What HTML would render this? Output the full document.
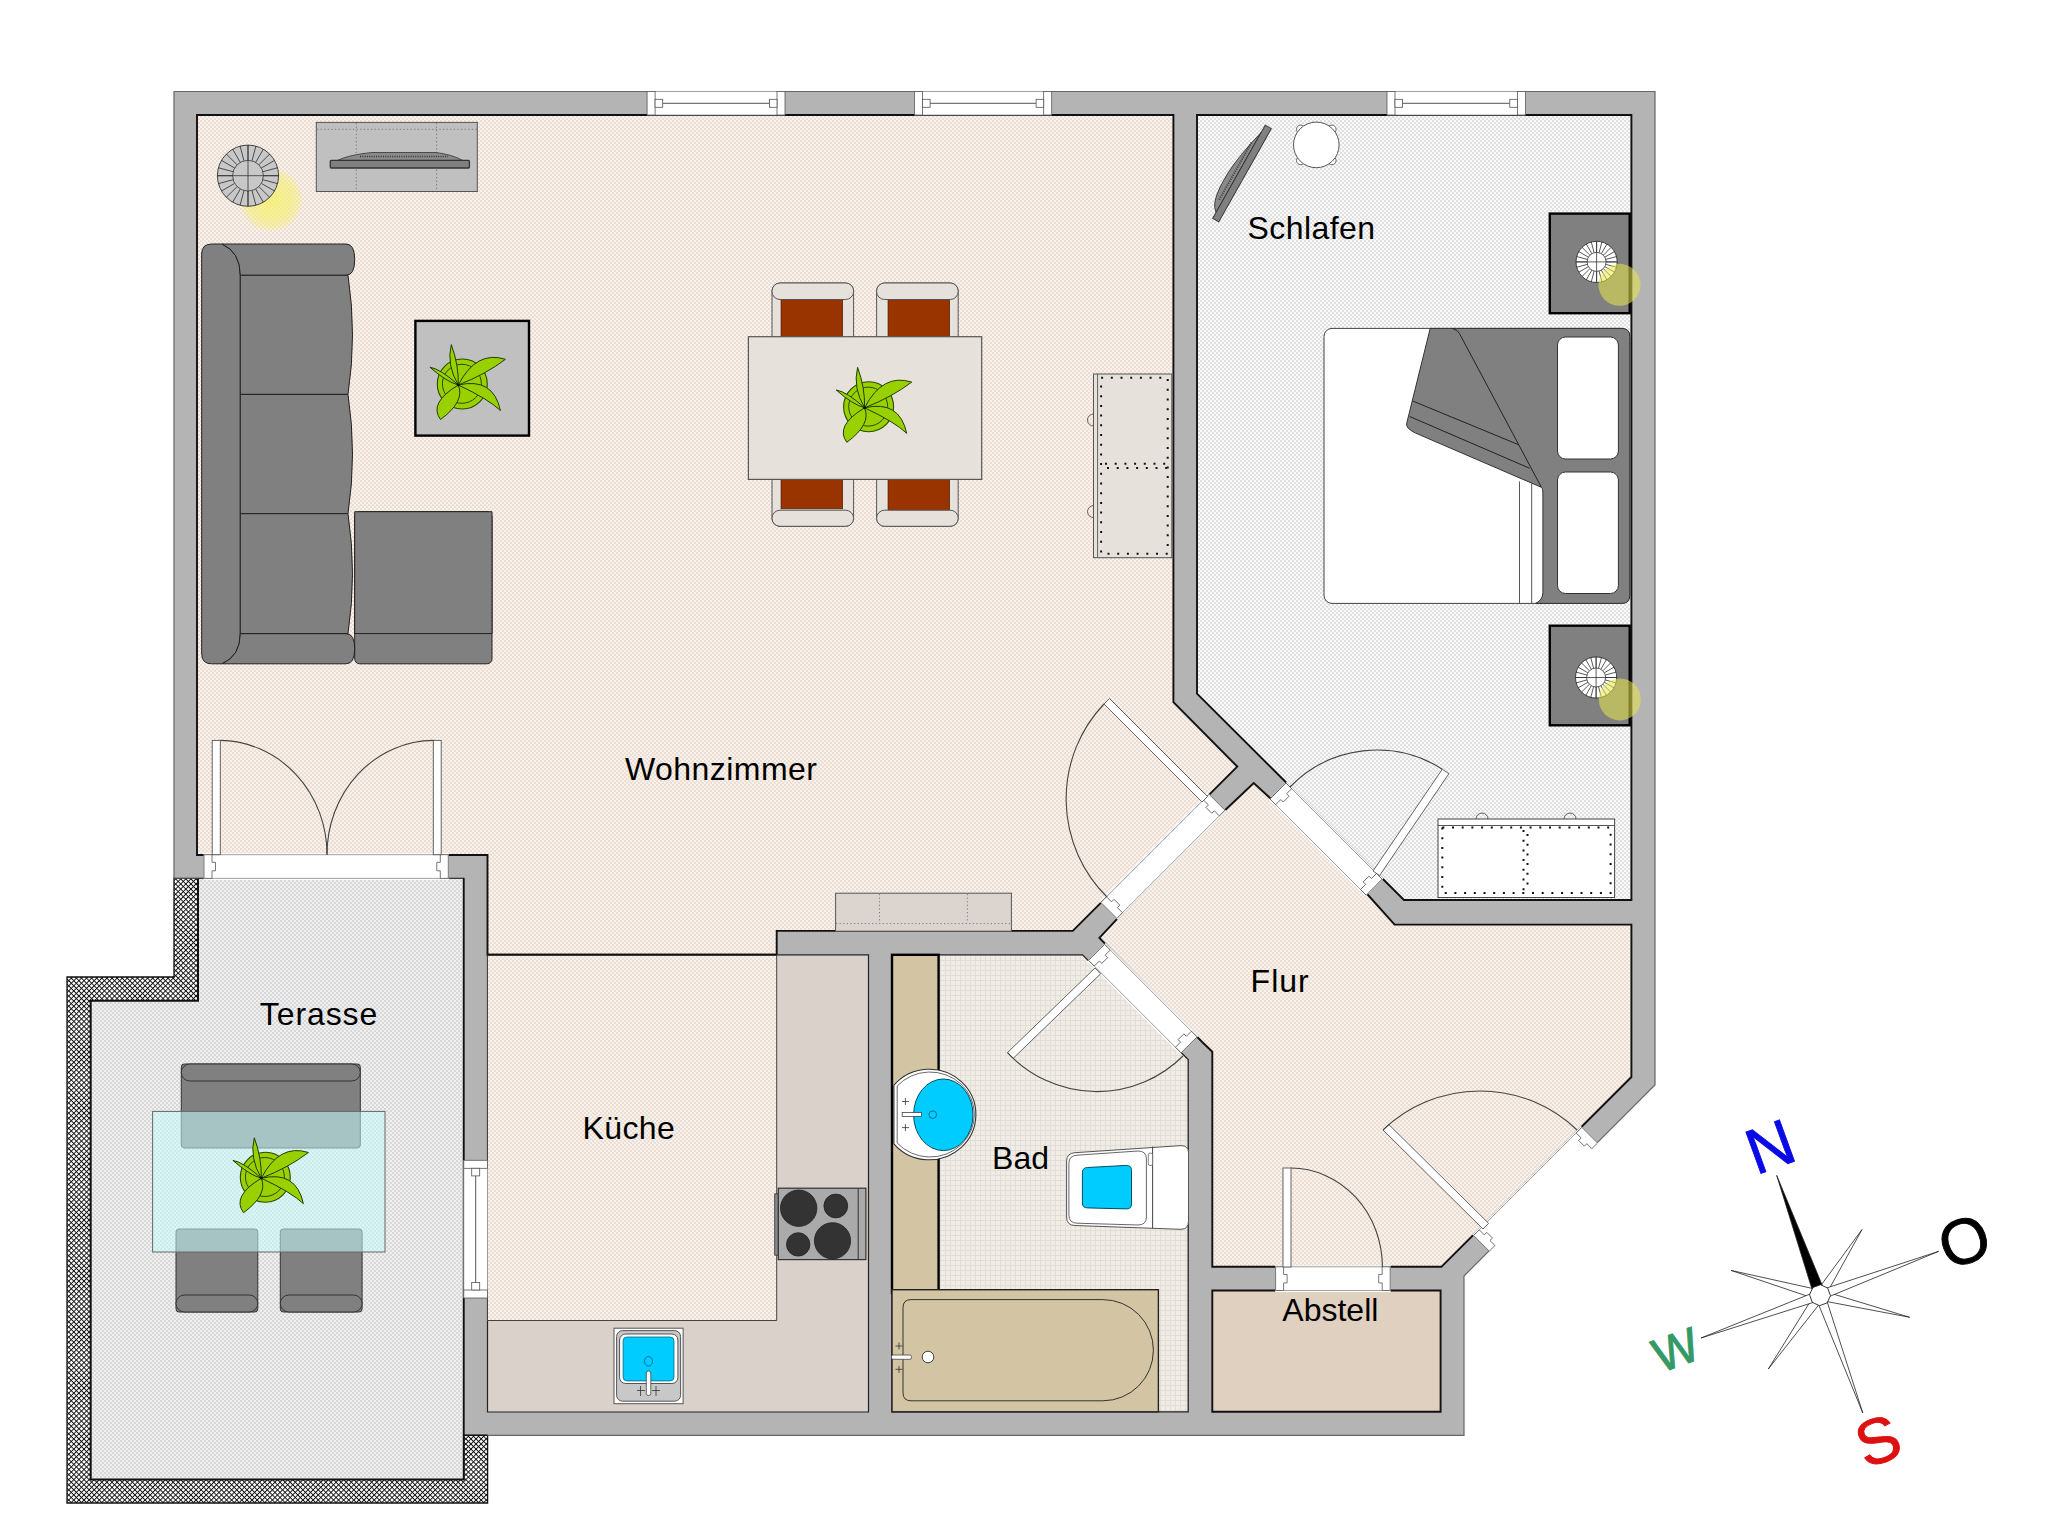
<!DOCTYPE html>
<html><head><meta charset="utf-8"><style>html,body{margin:0;padding:0;background:#fff;}svg{display:block;}</style></head>
<body><svg width="2048" height="1538" viewBox="0 0 2048 1538">
<rect width="2048" height="1538" fill="#fff"/>
<defs>
<pattern id="pwz" width="4" height="4" patternUnits="userSpaceOnUse"><rect width="4" height="4" fill="#fbf1e8"/><rect width="2" height="2" fill="#e9dfd6"/><rect x="2" y="2" width="2" height="2" fill="#e9dfd6"/></pattern>
<pattern id="psl" width="4" height="4" patternUnits="userSpaceOnUse"><rect width="4" height="4" fill="#fafafa"/><rect width="2" height="2" fill="#e0e0e0"/><rect x="2" y="2" width="2" height="2" fill="#e0e0e0"/></pattern>
<pattern id="pter" width="4" height="4" patternUnits="userSpaceOnUse"><rect width="4" height="4" fill="#f0f0f0"/><rect width="2" height="2" fill="#d8d8d8"/><rect x="2" y="2" width="2" height="2" fill="#d8d8d8"/></pattern>
<pattern id="pbad" width="5" height="5" patternUnits="userSpaceOnUse"><rect width="5" height="5" fill="#f0ede6"/><rect width="1" height="5" fill="#e2ddd5"/><rect width="5" height="1" fill="#e2ddd5"/></pattern>
<pattern id="pbal" width="3.6" height="3.6" patternUnits="userSpaceOnUse" patternTransform="rotate(45)"><rect width="3.6" height="3.6" fill="#ffffff"/><rect width="0.95" height="3.6" fill="#111"/><rect width="3.6" height="0.95" fill="#111"/></pattern>
</defs>
<polygon points="174.0,878.0 198.0,878.0 198.0,878.0 463.8,878.0 463.8,1432.0 487.6,1432.0 487.6,1503.0 67.0,1503.0 67.0,977.0 174.0,977.0" fill="url(#pbal)" stroke="#111" stroke-width="1.3"/>
<polygon points="198.0,878.0 463.8,878.0 463.8,1479.6 90.7,1479.6 90.7,1000.8 198.0,1000.8" fill="url(#pter)" stroke="#111" stroke-width="2"/>
<polygon points="174.0,91.5 1655.0,91.5 1655.0,1085.0 1464.0,1276.0 1464.0,1435.3 463.8,1435.3 463.8,878.0 174.0,878.0" fill="#b4b4b4" stroke="#666" stroke-width="1.2"/>
<path d="M463.8,878 L463.8,1435.3 L487.6,1435.3" fill="none" stroke="#111" stroke-width="1.6"/>
<polygon points="197.0,115.0 1173.4,115.0 1173.4,702.2 1237.3,766.6 1072.8,930.9 776.7,930.9 776.7,954.8 487.5,954.8 487.5,855.0 197.0,855.0" fill="url(#pwz)" stroke="#111" stroke-width="1.9"/>
<polygon points="487.5,954.8 868.5,954.8 868.5,1412.0 487.5,1412.0" fill="#d9d1ca" stroke="#222" stroke-width="1.2"/>
<polygon points="487.5,954.8 776.7,954.8 776.7,1320.5 487.5,1320.5" fill="url(#pwz)" stroke="#444" stroke-width="1"/>
<line x1="487.5" y1="954.8" x2="776.7" y2="954.8" stroke="#111" stroke-width="1.9"/>
<polygon points="892.0,954.8 1082.5,954.8 1188.2,1059.5 1188.2,1411.8 892.0,1411.8" fill="url(#pbad)" stroke="#222" stroke-width="1.3"/>
<polygon points="1099.4,937.9 1117.6,918.4 1225.0,810.2 1253.7,783.0 1270.0,798.0 1368.0,895.0 1394.6,924.6 1631.4,924.6 1631.4,1077.0 1441.4,1266.8 1212.3,1266.8 1212.3,1051.7 1202.2,1042.0 1099.4,937.9" fill="url(#pwz)" stroke="#111" stroke-width="1.9"/>
<polygon points="1197.0,115.0 1631.4,115.0 1631.4,900.0 1404.0,900.0 1197.0,693.6" fill="url(#psl)" stroke="#111" stroke-width="1.9"/>
<polygon points="1212.3,1290.5 1440.6,1290.5 1440.6,1411.8 1212.3,1411.8" fill="#e0d0c0" stroke="#111" stroke-width="1.9"/>
<g transform="translate(647.10,91.50) rotate(0)">
<rect x="0" y="0" width="137.9" height="23.5" fill="#fff"/>
<line x1="0" y1="0" x2="137.9" y2="0" stroke="#999" stroke-width="0.8"/>
<line x1="0" y1="23.5" x2="137.9" y2="23.5" stroke="#999" stroke-width="0.8"/>
<rect x="0" y="0" width="8" height="23.5" fill="#fff" stroke="#555" stroke-width="0.8"/>
<rect x="129.9" y="0" width="8" height="23.5" fill="#fff" stroke="#555" stroke-width="0.8"/>
<rect x="8" y="7.8" width="7.6" height="8" fill="#fff" stroke="#555" stroke-width="0.8"/>
<rect x="122.3" y="7.8" width="7.6" height="8" fill="#fff" stroke="#555" stroke-width="0.8"/>
<line x1="15.6" y1="11.8" x2="122.3" y2="11.8" stroke="#555" stroke-width="1"/>
</g>
<g transform="translate(914.50,91.50) rotate(0)">
<rect x="0" y="0" width="137.2" height="23.5" fill="#fff"/>
<line x1="0" y1="0" x2="137.2" y2="0" stroke="#999" stroke-width="0.8"/>
<line x1="0" y1="23.5" x2="137.2" y2="23.5" stroke="#999" stroke-width="0.8"/>
<rect x="0" y="0" width="8" height="23.5" fill="#fff" stroke="#555" stroke-width="0.8"/>
<rect x="129.2" y="0" width="8" height="23.5" fill="#fff" stroke="#555" stroke-width="0.8"/>
<rect x="8" y="7.8" width="7.6" height="8" fill="#fff" stroke="#555" stroke-width="0.8"/>
<rect x="121.6" y="7.8" width="7.6" height="8" fill="#fff" stroke="#555" stroke-width="0.8"/>
<line x1="15.6" y1="11.8" x2="121.6" y2="11.8" stroke="#555" stroke-width="1"/>
</g>
<g transform="translate(1387.00,91.50) rotate(0)">
<rect x="0" y="0" width="138.4" height="23.5" fill="#fff"/>
<line x1="0" y1="0" x2="138.4" y2="0" stroke="#999" stroke-width="0.8"/>
<line x1="0" y1="23.5" x2="138.4" y2="23.5" stroke="#999" stroke-width="0.8"/>
<rect x="0" y="0" width="8" height="23.5" fill="#fff" stroke="#555" stroke-width="0.8"/>
<rect x="130.4" y="0" width="8" height="23.5" fill="#fff" stroke="#555" stroke-width="0.8"/>
<rect x="8" y="7.8" width="7.6" height="8" fill="#fff" stroke="#555" stroke-width="0.8"/>
<rect x="122.8" y="7.8" width="7.6" height="8" fill="#fff" stroke="#555" stroke-width="0.8"/>
<line x1="15.6" y1="11.8" x2="122.8" y2="11.8" stroke="#555" stroke-width="1"/>
</g>
<g transform="translate(487.50,1160.30) rotate(90)">
<rect x="0" y="0" width="137.7" height="23.7" fill="#fff"/>
<line x1="0" y1="0" x2="137.7" y2="0" stroke="#999" stroke-width="0.8"/>
<line x1="0" y1="23.7" x2="137.7" y2="23.7" stroke="#999" stroke-width="0.8"/>
<rect x="0" y="0" width="8" height="23.7" fill="#fff" stroke="#555" stroke-width="0.8"/>
<rect x="129.7" y="0" width="8" height="23.7" fill="#fff" stroke="#555" stroke-width="0.8"/>
<rect x="8" y="7.8" width="7.6" height="8" fill="#fff" stroke="#555" stroke-width="0.8"/>
<rect x="122.1" y="7.8" width="7.6" height="8" fill="#fff" stroke="#555" stroke-width="0.8"/>
<line x1="15.6" y1="11.8" x2="122.1" y2="11.8" stroke="#555" stroke-width="1"/>
</g>
<g transform="translate(204.00,854.70) rotate(0)">
<rect x="-0.3" y="-1.6" width="244.9" height="26.9" fill="#fff"/>
<line x1="0" y1="0" x2="244.3" y2="0" stroke="#888" stroke-width="0.8"/>
<line x1="0" y1="23.7" x2="244.3" y2="23.7" stroke="#888" stroke-width="0.8"/>
<polygon points="0.0,0.0 8.0,0.0 8.0,7.6 11.5,7.6 11.5,16.1 8.0,16.1 8.0,23.7 0.0,23.7" fill="#fff" stroke="#555" stroke-width="0.8"/>
<polygon points="244.3,0.0 236.3,0.0 236.3,7.6 232.8,7.6 232.8,16.1 236.3,16.1 236.3,23.7 244.3,23.7" fill="#fff" stroke="#555" stroke-width="0.8"/>
</g>
<g transform="translate(1225.00,810.20) rotate(135)">
<rect x="-0.3" y="-1.6" width="153.6" height="25.8" fill="#fff"/>
<line x1="0" y1="0" x2="153.0" y2="0" stroke="#888" stroke-width="0.8"/>
<line x1="0" y1="22.6" x2="153.0" y2="22.6" stroke="#888" stroke-width="0.8"/>
<polygon points="0.0,0.0 8.0,0.0 8.0,7.2 11.5,7.2 11.5,15.4 8.0,15.4 8.0,22.6 0.0,22.6" fill="#fff" stroke="#555" stroke-width="0.8"/>
<polygon points="153.0,0.0 145.0,0.0 145.0,7.2 141.5,7.2 141.5,15.4 145.0,15.4 145.0,22.6 153.0,22.6" fill="#fff" stroke="#555" stroke-width="0.8"/>
</g>
<g transform="translate(1286.00,783.00) rotate(45)">
<rect x="-0.3" y="-1.6" width="136.6" height="25.8" fill="#fff"/>
<line x1="0" y1="0" x2="136.0" y2="0" stroke="#888" stroke-width="0.8"/>
<line x1="0" y1="22.6" x2="136.0" y2="22.6" stroke="#888" stroke-width="0.8"/>
<polygon points="0.0,0.0 8.0,0.0 8.0,7.2 11.5,7.2 11.5,15.4 8.0,15.4 8.0,22.6 0.0,22.6" fill="#fff" stroke="#555" stroke-width="0.8"/>
<polygon points="136.0,0.0 128.0,0.0 128.0,7.2 124.5,7.2 124.5,15.4 128.0,15.4 128.0,22.6 136.0,22.6" fill="#fff" stroke="#555" stroke-width="0.8"/>
</g>
<g transform="translate(1104.60,944.40) rotate(45)">
<rect x="-0.3" y="-1.6" width="131.4" height="25.8" fill="#fff"/>
<line x1="0" y1="0" x2="130.8" y2="0" stroke="#888" stroke-width="0.8"/>
<line x1="0" y1="22.6" x2="130.8" y2="22.6" stroke="#888" stroke-width="0.8"/>
<polygon points="0.0,0.0 8.0,0.0 8.0,7.2 11.5,7.2 11.5,15.4 8.0,15.4 8.0,22.6 0.0,22.6" fill="#fff" stroke="#555" stroke-width="0.8"/>
<polygon points="130.8,0.0 122.8,0.0 122.8,7.2 119.3,7.2 119.3,15.4 122.8,15.4 122.8,22.6 130.8,22.6" fill="#fff" stroke="#555" stroke-width="0.8"/>
</g>
<g transform="translate(1597.50,1143.00) rotate(135)">
<rect x="-0.3" y="-1.6" width="153.6" height="25.4" fill="#fff"/>
<line x1="0" y1="22.2" x2="153.0" y2="22.2" stroke="#888" stroke-width="0.8"/>
<polygon points="0.0,0.0 8.0,0.0 8.0,7.1 11.5,7.1 11.5,15.1 8.0,15.1 8.0,22.2 0.0,22.2" fill="#fff" stroke="#555" stroke-width="0.8"/>
<polygon points="153.0,0.0 145.0,0.0 145.0,7.1 141.5,7.1 141.5,15.1 145.0,15.1 145.0,22.2 153.0,22.2" fill="#fff" stroke="#555" stroke-width="0.8"/>
</g>
<g transform="translate(1275.60,1266.80) rotate(0)">
<rect x="-0.3" y="-1.6" width="115.2" height="26.9" fill="#fff"/>
<line x1="0" y1="0" x2="114.6" y2="0" stroke="#888" stroke-width="0.8"/>
<line x1="0" y1="23.7" x2="114.6" y2="23.7" stroke="#888" stroke-width="0.8"/>
<polygon points="0.0,0.0 8.0,0.0 8.0,7.6 11.5,7.6 11.5,16.1 8.0,16.1 8.0,23.7 0.0,23.7" fill="#fff" stroke="#555" stroke-width="0.8"/>
<polygon points="114.6,0.0 106.6,0.0 106.6,7.6 103.1,7.6 103.1,16.1 106.6,16.1 106.6,23.7 114.6,23.7" fill="#fff" stroke="#555" stroke-width="0.8"/>
</g>
<rect x="212.2" y="740.4" width="8.1" height="114.3" fill="#fff" stroke="#555" stroke-width="0.9"/>
<rect x="433.3" y="740.4" width="7.9" height="114.3" fill="#fff" stroke="#555" stroke-width="0.9"/>
<path d="M220.3,740.4 A108,114 0 0 1 327,854.7" fill="none" stroke="#444" stroke-width="1.1"/>
<path d="M433.3,740.4 A107,114 0 0 0 327,854.7" fill="none" stroke="#444" stroke-width="1.1"/>
<polygon points="1202,802 1207.5,796.5 1109.5,698.5 1104,704" fill="#fff" stroke="#555" stroke-width="0.9"/>
<path d="M1104,704 A138,138 0 0 0 1107,897" fill="none" stroke="#444" stroke-width="1.1"/>
<polygon points="1373.0,871.0 1442.3,769.2 1448.9,773.7 1379.6,875.5" fill="#fff" stroke="#555" stroke-width="0.9"/>
<path d="M1442.3,769.2 A121,121 0 0 0 1290,787" fill="none" stroke="#444" stroke-width="1.1"/>
<polygon points="1095.0,968.0 1007.5,1052.6 1013.1,1058.4 1100.6,973.8" fill="#fff" stroke="#555" stroke-width="0.9"/>
<path d="M1007.5,1052.6 A122,122 0 0 0 1183,1056" fill="none" stroke="#444" stroke-width="1.1"/>
<polygon points="1483.0,1229.0 1383.0,1130.0 1388.6,1124.3 1488.6,1223.3" fill="#fff" stroke="#555" stroke-width="0.9"/>
<path d="M1383,1130 A140,140 0 0 1 1577,1130" fill="none" stroke="#444" stroke-width="1.1"/>
<rect x="1283" y="1168" width="8" height="99" fill="#fff" stroke="#555" stroke-width="0.9"/>
<path d="M1291,1168 A92,99 0 0 1 1382.4,1267" fill="none" stroke="#444" stroke-width="1.1"/>
<defs><g id="plant"><circle cx="4" cy="-1" r="25" fill="#99d000" stroke="#2a4a00" stroke-width="1.1"/><circle cx="3.6" cy="-1.2" r="19.5" fill="none" stroke="#2a4a00" stroke-width="1"/><path d="M0,0 Q-17.8,-16.1 -28.4,-17.8 Q-11.8,-3.1 0,0 Z" fill="#99d000" stroke="#1f3d00" stroke-width="1"/><path d="M0,0 Q-12.0,-20.0 -7.0,-40.4 Q0.5,-20.0 0,0 Z" fill="#99d000" stroke="#1f3d00" stroke-width="1"/><path d="M0,0 Q18.0,-35.0 47.1,-25.7 Q28.0,-11.0 0,0 Z" fill="#99d000" stroke="#1f3d00" stroke-width="1"/><path d="M0,0 Q35.0,-8.0 42.1,25.5 Q30.0,14.0 0,0 Z" fill="#99d000" stroke="#1f3d00" stroke-width="1"/><path d="M0,0 Q-30.0,18.0 -17.8,34.5 Q7.0,16.4 0,0 Z" fill="#99d000" stroke="#1f3d00" stroke-width="1"/><circle cx="0" cy="0" r="1.4" fill="#111"/></g></defs>
<defs><radialGradient id="glowY"><stop offset="0" stop-color="#f6f070" stop-opacity="0.85"/><stop offset="0.7" stop-color="#f6f070" stop-opacity="0.6"/><stop offset="1" stop-color="#f6f070" stop-opacity="0.25"/></radialGradient></defs>
<circle cx="271" cy="199.7" r="31" fill="url(#glowY)"/>
<g transform="translate(248,175.7)"><circle r="30.6" fill="#c8c8c8" stroke="#333" stroke-width="0.9"/><path d="M15.40,0.00 L30.60,0.00 M14.88,3.99 L29.56,7.92 M13.34,7.70 L26.50,15.30 M10.89,10.89 L21.64,21.64 M7.70,13.34 L15.30,26.50 M3.99,14.88 L7.92,29.56 M0.00,15.40 L0.00,30.60 M-3.99,14.88 L-7.92,29.56 M-7.70,13.34 L-15.30,26.50 M-10.89,10.89 L-21.64,21.64 M-13.34,7.70 L-26.50,15.30 M-14.88,3.99 L-29.56,7.92 M-15.40,0.00 L-30.60,0.00 M-14.88,-3.99 L-29.56,-7.92 M-13.34,-7.70 L-26.50,-15.30 M-10.89,-10.89 L-21.64,-21.64 M-7.70,-13.34 L-15.30,-26.50 M-3.99,-14.88 L-7.92,-29.56 M-0.00,-15.40 L-0.00,-30.60 M3.99,-14.88 L7.92,-29.56 M7.70,-13.34 L15.30,-26.50 M10.89,-10.89 L21.64,-21.64 M13.34,-7.70 L26.50,-15.30 M14.88,-3.99 L29.56,-7.92" stroke="#222" stroke-width="0.75"/><circle r="15.4" fill="#c8c8c8" stroke="#333" stroke-width="0.8"/><path d="M-30.6,0 L30.6,0 M0,-30.6 L0,30.6" stroke="#333" stroke-width="0.8"/></g>
<rect x="316.3" y="122.4" width="161" height="69.1" fill="#c0c0c0" stroke="#555" stroke-width="1"/>
<path d="M317,129.3 L477,129.3 M356.3,123 L356.3,191 M436.6,123 L436.6,191" stroke="#666" stroke-width="0.8" stroke-dasharray="1.2 2.4"/>
<path d="M337,160.6 Q350,154.5 372,152.5 L436,152.5 Q452,154.5 463,160.6 Z" fill="#8a8a8a" stroke="#333" stroke-width="0.8"/>
<path d="M360,156.5 L448,156.5" stroke="#333" stroke-width="1.6" stroke-dasharray="1 1.3"/>
<rect x="330.3" y="160.4" width="139.1" height="7.6" rx="1" fill="#808080" stroke="#333" stroke-width="1.3"/>
<rect x="354.7" y="511.7" width="137.3" height="152.1" rx="5" fill="#808080" stroke="#222" stroke-width="1"/>
<path d="M354.7,511.7 L492,511.7 L492,633.6 L354.7,633.6 Z" fill="#808080" stroke="#222" stroke-width="1"/>
<path d="M211.7,244 L222,244 Q240.3,252 240.3,275.3 L240.3,633.6 Q240.3,656 222,663.8 L211.7,663.8 Q201.7,663.8 201.7,653.8 L201.7,254 Q201.7,244 211.7,244 Z" fill="#808080" stroke="#222" stroke-width="1"/>
<path d="M222,244 L346,244 Q354.7,244 354.7,259.6 Q354.7,275.3 346,275.3 L240.3,275.3 Q240.3,252 222,244 Z" fill="#808080" stroke="#222" stroke-width="1"/>
<path d="M222,663.8 Q240.3,656 240.3,633.6 L346,633.6 Q354.7,633.6 354.7,648.7 Q354.7,663.8 346,663.8 Z" fill="#808080" stroke="#222" stroke-width="1"/>
<path d="M240.3,275.3 L348,275.3 Q357,334.9 348,394.4 L240.3,394.4 Z" fill="#808080" stroke="#222" stroke-width="1"/>
<path d="M240.3,394.4 L348,394.4 Q357,454.1 348,513.7 L240.3,513.7 Z" fill="#808080" stroke="#222" stroke-width="1"/>
<path d="M240.3,513.7 L348,513.7 Q357,573.7 348,633.6 L240.3,633.6 Z" fill="#808080" stroke="#222" stroke-width="1"/>
<rect x="415.4" y="320.9" width="113.6" height="114.7" fill="#c0c0c0" stroke="#000" stroke-width="2.4"/>
<use href="#plant" transform="translate(458.3,385)"/>
<rect x="772" y="283" width="81.6" height="60" rx="8" fill="#e6e2db" stroke="#555" stroke-width="1"/>
<rect x="781.0" y="299" width="61.7" height="40" fill="#993300" stroke="#3a1a00" stroke-width="0.6"/>
<rect x="772" y="283" width="81.6" height="16.5" rx="8" fill="#e6e2db" stroke="#555" stroke-width="1"/>
<rect x="772" y="472" width="81.6" height="54.3" rx="8" fill="#e6e2db" stroke="#555" stroke-width="1"/>
<rect x="781.0" y="475" width="61.7" height="33.8" fill="#993300" stroke="#3a1a00" stroke-width="0.6"/>
<rect x="772" y="510.2" width="81.6" height="16.1" rx="8" fill="#e6e2db" stroke="#555" stroke-width="1"/>
<rect x="876.6" y="283" width="81.6" height="60" rx="8" fill="#e6e2db" stroke="#555" stroke-width="1"/>
<rect x="888.0" y="299" width="61.7" height="40" fill="#993300" stroke="#3a1a00" stroke-width="0.6"/>
<rect x="876.6" y="283" width="81.6" height="16.5" rx="8" fill="#e6e2db" stroke="#555" stroke-width="1"/>
<rect x="876.6" y="472" width="81.6" height="54.3" rx="8" fill="#e6e2db" stroke="#555" stroke-width="1"/>
<rect x="888.0" y="475" width="61.7" height="37.8" fill="#993300" stroke="#3a1a00" stroke-width="0.6"/>
<rect x="876.6" y="510.2" width="81.6" height="16.1" rx="8" fill="#e6e2db" stroke="#555" stroke-width="1"/>
<rect x="748.4" y="336.7" width="233.3" height="142.7" fill="#e6e2db" stroke="#555" stroke-width="1.2"/>
<use href="#plant" transform="translate(864.6,407.8)"/>
<rect x="1093.5" y="374" width="78.3" height="183.7" fill="#e6e2db" stroke="#555" stroke-width="1"/>
<line x1="1097.6" y1="374" x2="1097.6" y2="557.7" stroke="#555" stroke-width="0.9"/>
<path d="M1093.5,414 A6,6 0 0 0 1093.5,426 M1093.5,505.6 A6,6 0 0 0 1093.5,517.6" fill="none" stroke="#555" stroke-width="0.9"/>
<rect x="1101.1" y="377.8" width="66.6" height="175.9" fill="none" stroke="#111" stroke-width="2" stroke-dasharray="2 7.7"/>
<path d="M1105,463.8 L1166,463.8 M1107,468 L1167,468" fill="none" stroke="#111" stroke-width="2" stroke-dasharray="2 7.7"/>
<rect x="835.6" y="893.2" width="175.8" height="38" fill="#dcd4ce" stroke="#555" stroke-width="1"/>
<path d="M836,923.6 L1011,923.6 M879.5,894 L879.5,923 M967.4,894 L967.4,923" stroke="#666" stroke-width="0.8" stroke-dasharray="1.2 2.4"/>
<g transform="translate(1267,126.2) rotate(119.45)">
<path d="M8,2 Q40,10 60,11 L75,11 Q95,10 100,2 Z" fill="#8a8a8a" stroke="#333" stroke-width="0.8"/>
<path d="M22,5.5 L88,5.5" stroke="#333" stroke-width="1.8" stroke-dasharray="1 1.3"/>
<rect x="0" y="-5" width="107" height="7" fill="#808080" stroke="#333" stroke-width="0.9"/>
</g>
<circle cx="1331.9" cy="160.5" r="4.2" fill="#fff" stroke="#555" stroke-width="0.9"/>
<circle cx="1300.7" cy="160.5" r="4.2" fill="#fff" stroke="#555" stroke-width="0.9"/>
<circle cx="1300.7" cy="129.3" r="4.2" fill="#fff" stroke="#555" stroke-width="0.9"/>
<circle cx="1331.9" cy="129.3" r="4.2" fill="#fff" stroke="#555" stroke-width="0.9"/>
<circle cx="1316.3" cy="144.9" r="22.8" fill="#fff" stroke="#555" stroke-width="1"/>
<rect x="1549.8" y="213.6" width="79.9" height="99.6" fill="#808080" stroke="#000" stroke-width="2.4"/>
<g transform="translate(1596.6,261.9)"><circle r="20.6" fill="#ffffff" stroke="#333" stroke-width="0.9"/><path d="M9.50,0.00 L20.60,0.00 M9.18,2.46 L19.90,5.33 M8.23,4.75 L17.84,10.30 M6.72,6.72 L14.57,14.57 M4.75,8.23 L10.30,17.84 M2.46,9.18 L5.33,19.90 M0.00,9.50 L0.00,20.60 M-2.46,9.18 L-5.33,19.90 M-4.75,8.23 L-10.30,17.84 M-6.72,6.72 L-14.57,14.57 M-8.23,4.75 L-17.84,10.30 M-9.18,2.46 L-19.90,5.33 M-9.50,0.00 L-20.60,0.00 M-9.18,-2.46 L-19.90,-5.33 M-8.23,-4.75 L-17.84,-10.30 M-6.72,-6.72 L-14.57,-14.57 M-4.75,-8.23 L-10.30,-17.84 M-2.46,-9.18 L-5.33,-19.90 M-0.00,-9.50 L-0.00,-20.60 M2.46,-9.18 L5.33,-19.90 M4.75,-8.23 L10.30,-17.84 M6.72,-6.72 L14.57,-14.57 M8.23,-4.75 L17.84,-10.30 M9.18,-2.46 L19.90,-5.33" stroke="#222" stroke-width="0.75"/><circle r="9.5" fill="#ffffff" stroke="#333" stroke-width="0.8"/><path d="M-20.6,0 L20.6,0 M0,-20.6 L0,20.6" stroke="#333" stroke-width="0.8"/></g>
<circle cx="1619.5" cy="284.8" r="21" fill="#e8e84a" opacity="0.55"/>
<rect x="1549.8" y="625.7" width="79.9" height="99.6" fill="#808080" stroke="#000" stroke-width="2.4"/>
<g transform="translate(1596.1,677.5)"><circle r="20.6" fill="#ffffff" stroke="#333" stroke-width="0.9"/><path d="M9.50,0.00 L20.60,0.00 M9.18,2.46 L19.90,5.33 M8.23,4.75 L17.84,10.30 M6.72,6.72 L14.57,14.57 M4.75,8.23 L10.30,17.84 M2.46,9.18 L5.33,19.90 M0.00,9.50 L0.00,20.60 M-2.46,9.18 L-5.33,19.90 M-4.75,8.23 L-10.30,17.84 M-6.72,6.72 L-14.57,14.57 M-8.23,4.75 L-17.84,10.30 M-9.18,2.46 L-19.90,5.33 M-9.50,0.00 L-20.60,0.00 M-9.18,-2.46 L-19.90,-5.33 M-8.23,-4.75 L-17.84,-10.30 M-6.72,-6.72 L-14.57,-14.57 M-4.75,-8.23 L-10.30,-17.84 M-2.46,-9.18 L-5.33,-19.90 M-0.00,-9.50 L-0.00,-20.60 M2.46,-9.18 L5.33,-19.90 M4.75,-8.23 L10.30,-17.84 M6.72,-6.72 L14.57,-14.57 M8.23,-4.75 L17.84,-10.30 M9.18,-2.46 L19.90,-5.33" stroke="#222" stroke-width="0.75"/><circle r="9.5" fill="#ffffff" stroke="#333" stroke-width="0.8"/><path d="M-20.6,0 L20.6,0 M0,-20.6 L0,20.6" stroke="#333" stroke-width="0.8"/></g>
<circle cx="1619.8" cy="699.4" r="21" fill="#e8e84a" opacity="0.55"/>
<rect x="1324" y="328.4" width="305.8" height="275" rx="8" fill="#fff" stroke="#444" stroke-width="1"/>
<path d="M1430.2,328.4 L1621.8,328.4 Q1629.8,328.4 1629.8,336.4 L1629.8,595.4 Q1629.8,603.4 1621.8,603.4 L1535.6,603.4 Q1542.9,600 1542.9,592.6 L1542.9,495 Q1542.9,488 1541.4,487.3 L1415.6,433.1 Q1405,428 1406.8,422.9 Z" fill="#808080" stroke="#333" stroke-width="1"/>
<path d="M1452.2,328.4 Q1458,330 1459.5,333.6 L1541.4,487.3" fill="none" stroke="#222" stroke-width="1"/>
<path d="M1412.7,401 L1518.9,444.8 M1409.7,416.5 L1529.7,468.3" fill="none" stroke="#222" stroke-width="1"/>
<path d="M1519.5,481.4 L1519.5,603.4 M1531.7,483 L1531.7,603.4" fill="none" stroke="#444" stroke-width="0.9"/>
<rect x="1557.5" y="337" width="60.9" height="122" rx="8" fill="#fff" stroke="#333" stroke-width="1"/>
<rect x="1557.5" y="472" width="60.9" height="121.5" rx="8" fill="#fff" stroke="#333" stroke-width="1"/>
<path d="M1476,819 A6,6 0 0 1 1488,819 M1564,819 A6,6 0 0 1 1576,819" fill="none" stroke="#555" stroke-width="0.9"/>
<rect x="1438" y="819" width="176.6" height="78.5" fill="#fff" stroke="#444" stroke-width="1"/>
<line x1="1438" y1="825.5" x2="1614.6" y2="825.5" stroke="#444" stroke-width="0.9"/>
<rect x="1442.3" y="827.5" width="168.3" height="65.5" fill="none" stroke="#111" stroke-width="2" stroke-dasharray="2 7.7"/>
<path d="M1523.5,830 L1523.5,892 M1527.5,834 L1527.5,892" fill="none" stroke="#111" stroke-width="2" stroke-dasharray="2 7.7"/>
<rect x="774.7" y="1193.8" width="3.6" height="61.4" fill="#888" stroke="#333" stroke-width="0.8"/>
<rect x="778.3" y="1188.2" width="87.6" height="71.4" fill="#aaaaaa" stroke="#333" stroke-width="1.2"/>
<line x1="858.2" y1="1188.2" x2="858.2" y2="1259.6" stroke="#333" stroke-width="1"/>
<circle cx="798.7" cy="1208.2" r="18.2" fill="#333" stroke="#222" stroke-width="0.8"/>
<circle cx="835.8" cy="1206" r="11.9" fill="#333" stroke="#222" stroke-width="0.8"/>
<circle cx="798.2" cy="1244.4" r="11.7" fill="#333" stroke="#222" stroke-width="0.8"/>
<circle cx="832.5" cy="1240.8" r="18.1" fill="#333" stroke="#222" stroke-width="0.8"/>
<rect x="614" y="1328.2" width="69.1" height="75.5" fill="#fff" stroke="#555" stroke-width="1"/>
<rect x="616.6" y="1330.6" width="64" height="70.6" rx="6" fill="#c8c8c8" stroke="#444" stroke-width="0.9"/>
<rect x="619.6" y="1334" width="58.3" height="49.5" rx="6" fill="#fff" stroke="#444" stroke-width="0.9"/>
<rect x="623.1" y="1337" width="50.9" height="43.9" rx="4" fill="#00ccff" stroke="#006688" stroke-width="0.8"/>
<ellipse cx="648.5" cy="1361.3" rx="4" ry="4.8" fill="none" stroke="#006699" stroke-width="0.9"/>
<rect x="646.3" y="1371" width="4.5" height="24.5" rx="2" fill="#fff" stroke="#444" stroke-width="0.8"/>
<path d="M637,1390.5 L645,1390.5 M640.5,1386 L640.5,1396 M652,1390.5 L660,1390.5 M656,1386 L656,1396" stroke="#333" stroke-width="0.8"/>
<rect x="892" y="954.8" width="46.6" height="338.2" fill="#d3c4a3" stroke="#000" stroke-width="2.4"/>
<rect x="892" y="1289.7" width="266.4" height="122.1" fill="#d3c4a3" stroke="#222" stroke-width="1.4"/>
<path d="M911,1299.6 L1102.8,1299.6 A50.6,50.6 0 0 1 1102.8,1400.8 L911,1400.8 Q903,1400.8 903,1392.8 L903,1307.6 Q903,1299.6 911,1299.6 Z" fill="#d3c4a3" stroke="#333" stroke-width="1"/>
<circle cx="928" cy="1357" r="5.8" fill="#fff" stroke="#333" stroke-width="0.9"/>
<rect x="891.5" y="1355" width="19.9" height="4.3" rx="1.5" fill="#fff" stroke="#444" stroke-width="0.8"/>
<path d="M895.5,1346 L902.5,1346 M899,1342.5 L899,1349.5 M895.5,1369.3 L902.5,1369.3 M899,1365.8 L899,1372.8" stroke="#333" stroke-width="0.8"/>
<path d="M893.9,1085.2 A46.5,45.3 0 1 1 893.9,1143.8 Z" fill="#fff" stroke="#333" stroke-width="1.1"/>
<path d="M897.2,1086 A44.3,42.5 0 1 1 897.2,1143 Z" fill="none" stroke="#444" stroke-width="0.8"/>
<ellipse cx="943.3" cy="1114.8" rx="29.7" ry="35.8" fill="#00ccff" stroke="#004d66" stroke-width="1"/>
<circle cx="932.8" cy="1114.7" r="3.8" fill="none" stroke="#005577" stroke-width="0.8"/>
<rect x="902.2" y="1112.6" width="19.3" height="3.9" fill="#fff" stroke="#444" stroke-width="0.8"/>
<path d="M902,1101.5 L909,1101.5 M905.4,1098 L905.4,1105 M902,1127.6 L909,1127.6 M905.4,1124.1 L905.4,1131.1" stroke="#333" stroke-width="0.8"/>
<path d="M1075,1152.7 L1181,1145.6 Q1188.5,1145.6 1188.5,1153 L1188.5,1221 Q1188.5,1229.3 1181,1229.3 L1075,1225.5 Q1066.6,1225.4 1066.6,1217 L1066.6,1161 Q1066.6,1153.2 1075,1152.7 Z" fill="#fff" stroke="#555" stroke-width="1"/>
<line x1="1152.6" y1="1146.5" x2="1152.6" y2="1228.5" stroke="#444" stroke-width="1"/>
<path d="M1077,1155.2 L1138,1151 Q1146.4,1150.9 1146.4,1159 L1146.4,1217 Q1146.4,1225 1138,1225 L1077,1223.2 Q1068.9,1223 1068.9,1215 L1068.9,1163.5 Q1068.9,1155.5 1077,1155.2 Z" fill="none" stroke="#555" stroke-width="0.9"/>
<rect x="1148.3" y="1153.2" width="4.3" height="12.2" rx="1.5" fill="#fff" stroke="#555" stroke-width="0.7"/>
<path d="M1087.5,1167.5 L1126.5,1165.4 Q1131.5,1165.4 1131.5,1170.4 L1131.5,1203.9 Q1131.5,1208.9 1126.5,1208.9 L1087.5,1207.9 Q1082.4,1207.9 1082.4,1202.9 L1082.4,1172.7 Q1082.4,1167.7 1087.5,1167.5 Z" fill="#00ccff" stroke="#004d66" stroke-width="1"/>
<rect x="181.3" y="1064" width="179" height="84" rx="3" fill="#808080" stroke="#333" stroke-width="1"/>
<rect x="181.3" y="1064" width="179" height="17" rx="8.5" fill="#808080" stroke="#333" stroke-width="1"/>
<rect x="176" y="1229" width="81.8" height="83" rx="3" fill="#808080" stroke="#333" stroke-width="1"/>
<rect x="176" y="1295" width="81.8" height="17" rx="8.5" fill="#808080" stroke="#333" stroke-width="1"/>
<rect x="280.3" y="1229" width="81.8" height="83" rx="3" fill="#808080" stroke="#333" stroke-width="1"/>
<rect x="280.3" y="1295" width="81.8" height="17" rx="8.5" fill="#808080" stroke="#333" stroke-width="1"/>
<rect x="152.6" y="1111.4" width="232.4" height="140.6" fill="#c6fbfb" fill-opacity="0.55" stroke="#666" stroke-width="1"/>
<use href="#plant" transform="translate(261.3,1178.2)"/>
<text x="625" y="780.4" letter-spacing="0.45" font-family="Liberation Sans, sans-serif" font-size="32" fill="#000">Wohnzimmer</text>
<text x="1247.4" y="238.5" letter-spacing="0.45" font-family="Liberation Sans, sans-serif" font-size="32" fill="#000">Schlafen</text>
<text x="259.8" y="1024.8" letter-spacing="0.9" font-family="Liberation Sans, sans-serif" font-size="32" fill="#000">Terasse</text>
<text x="582.5" y="1138.7" letter-spacing="0.4" font-family="Liberation Sans, sans-serif" font-size="32" fill="#000">Küche</text>
<text x="992.1" y="1168.9" letter-spacing="0" font-family="Liberation Sans, sans-serif" font-size="32" fill="#000">Bad</text>
<text x="1250.6" y="991.6" letter-spacing="1.0" font-family="Liberation Sans, sans-serif" font-size="32" fill="#000">Flur</text>
<text x="1282.3" y="1321" letter-spacing="0.0" font-family="Liberation Sans, sans-serif" font-size="32" fill="#000">Abstell</text>
<polygon points="1828.3,1290.5 1862.0,1229.5 1820.7,1285.7" fill="#fff" stroke="#222" stroke-width="0.8"/>
<polygon points="1813.1,1288.6 1731.0,1270.4 1810.7,1297.3" fill="#fff" stroke="#222" stroke-width="0.8"/>
<polygon points="1827.1,1301.6 1909.7,1317.3 1829.2,1292.8" fill="#fff" stroke="#222" stroke-width="0.8"/>
<polygon points="1811.5,1299.5 1768.3,1369.0 1818.9,1304.7" fill="#fff" stroke="#222" stroke-width="0.8"/>
<polygon points="1818.6,1304.6 1862.8,1413.0 1827.1,1301.6" fill="#fff" stroke="#222" stroke-width="0.8"/>
<polygon points="1829.4,1296.5 1938.6,1251.4 1826.3,1288.1" fill="#fff" stroke="#222" stroke-width="0.8"/>
<polygon points="1810.6,1293.8 1701.0,1338.0 1813.6,1302.3" fill="#fff" stroke="#222" stroke-width="0.8"/>
<polygon points="1822.3,1285.4 1776.7,1175.4 1812.0,1289.2" fill="#000" stroke="#222" stroke-width="0.8"/>
<polygon points="1830.5,1295.7 1827.1,1302.9 1819.5,1305.7 1812.3,1302.3 1809.5,1294.7 1812.9,1287.5 1820.5,1284.7 1827.7,1288.1" fill="#fff" stroke="#222" stroke-width="0.9"/>
<text font-family="Liberation Sans, sans-serif" font-size="64" text-anchor="middle" fill="#0a0ae6" stroke="#0a0ae6" stroke-width="0.9" transform="translate(1769.8,1145.5) rotate(-20)" x="0" y="23.3" >N</text>
<text font-family="Liberation Sans, sans-serif" font-size="64" text-anchor="middle" fill="#000" stroke="#000" stroke-width="0.9" transform="translate(1964,1240) rotate(-20)" x="0" y="23.3" >O</text>
<text font-family="Liberation Sans, sans-serif" font-size="48" text-anchor="middle" fill="#339966" stroke="#339966" stroke-width="0.9" transform="translate(1675.5,1349) rotate(-20)" x="0" y="17.5" >W</text>
<text font-family="Liberation Sans, sans-serif" font-size="64" text-anchor="middle" fill="#dd1111" stroke="#dd1111" stroke-width="0.9" transform="translate(1877.7,1439.5) rotate(-20)" x="0" y="23.3" >S</text>
</svg></body></html>
